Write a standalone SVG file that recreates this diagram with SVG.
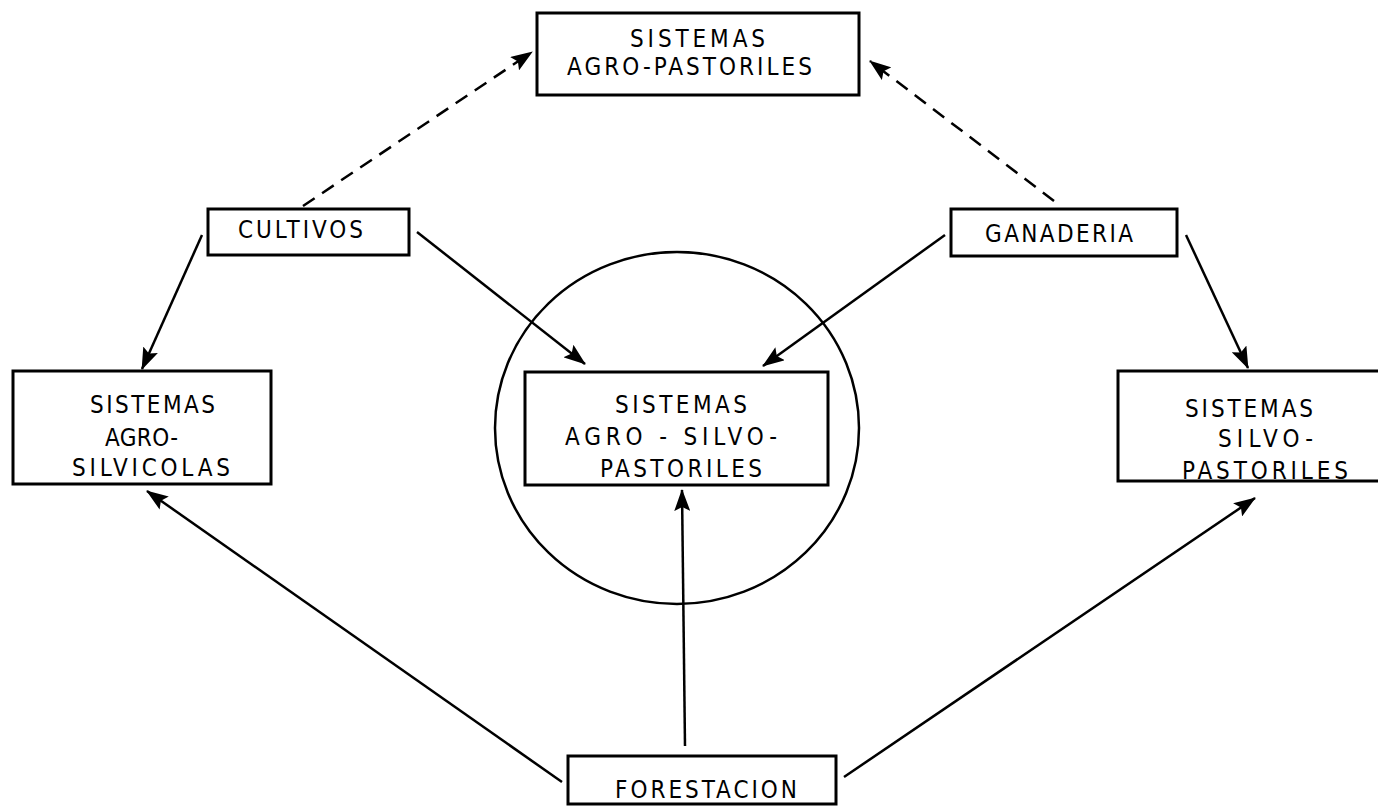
<svg xmlns="http://www.w3.org/2000/svg" width="1378" height="809" viewBox="0 0 1378 809">
<defs>
<marker id="a" viewBox="0 0 22 16" refX="21" refY="8" markerWidth="22" markerHeight="16" markerUnits="userSpaceOnUse" orient="auto">
<path d="M0,0 L22,8 L0,16 L4,8 Z" fill="#000"/>
</marker>
<style>
.box{fill:#fff;stroke:#000;stroke-width:3}
.t{font-family:"DejaVu Sans Condensed","DejaVu Sans",sans-serif;font-size:24px;fill:#000}
.c{stroke:#000;stroke-width:2.5;fill:none}
.d{stroke-dasharray:14,9}
</style>
</defs>
<rect width="1378" height="809" fill="#fff"/>
<g id="connectors">
<ellipse cx="677" cy="428" rx="182" ry="176" class="c" stroke-width="2"/>
<line x1="303" y1="206" x2="532" y2="52" class="c d" marker-end="url(#a)"/>
<line x1="1054" y1="201" x2="870" y2="61" class="c d" marker-end="url(#a)"/>
<line x1="202" y1="235" x2="142" y2="369" class="c" marker-end="url(#a)"/>
<line x1="417" y1="232" x2="585" y2="364" class="c" marker-end="url(#a)"/>
<line x1="945" y1="235" x2="763" y2="366" class="c" marker-end="url(#a)"/>
<line x1="1186" y1="235" x2="1248" y2="368" class="c" marker-end="url(#a)"/>
<line x1="562" y1="782" x2="147" y2="491" class="c" marker-end="url(#a)"/>
<line x1="685" y1="746" x2="682" y2="490" class="c" marker-end="url(#a)"/>
<line x1="844" y1="777" x2="1255" y2="498" class="c" marker-end="url(#a)"/>
</g>
<g id="agropastoriles">
<rect x="537" y="13" width="322" height="82" class="box"/>
<text x="630" y="47" class="t" textLength="135" lengthAdjust="spacing">SISTEMAS</text>
<text x="567" y="75" class="t" textLength="245" lengthAdjust="spacing">AGRO-PASTORILES</text>
</g>
<g id="cultivos">
<rect x="208" y="209" width="201" height="46" class="box"/>
<text x="238" y="238" class="t" textLength="125" lengthAdjust="spacing">CULTIVOS</text>
</g>
<g id="ganaderia">
<rect x="951" y="209" width="226" height="47" class="box"/>
<text x="985" y="242" class="t" textLength="148" lengthAdjust="spacing">GANADERIA</text>
</g>
<g id="agrosilvicolas">
<rect x="13" y="371" width="258" height="113" class="box"/>
<text x="90" y="413" class="t" textLength="125" lengthAdjust="spacing">SISTEMAS</text>
<text x="105" y="446" class="t" textLength="73" lengthAdjust="spacing">AGRO-</text>
<text x="72" y="476" class="t" textLength="158" lengthAdjust="spacing">SILVICOLAS</text>
</g>
<g id="agrosilvopastoriles">
<rect x="525" y="372" width="303" height="113" class="box"/>
<text x="615" y="413" class="t" textLength="132" lengthAdjust="spacing">SISTEMAS</text>
<text x="565" y="445" class="t" textLength="212" lengthAdjust="spacing">AGRO - SILVO-</text>
<text x="600" y="477" class="t" textLength="162" lengthAdjust="spacing">PASTORILES</text>
</g>
<g id="silvopastoriles">
<rect x="1118" y="371" width="275" height="110" class="box"/>
<text x="1185" y="417" class="t" textLength="128" lengthAdjust="spacing">SISTEMAS</text>
<text x="1218" y="447" class="t" textLength="95" lengthAdjust="spacing">SILVO-</text>
<text x="1182" y="479" class="t" textLength="166" lengthAdjust="spacing">PASTORILES</text>
</g>
<g id="forestacion">
<rect x="568" y="756" width="268" height="48" class="box"/>
<text x="615" y="798" class="t" textLength="182" lengthAdjust="spacing">FORESTACION</text>
</g>
</svg>
